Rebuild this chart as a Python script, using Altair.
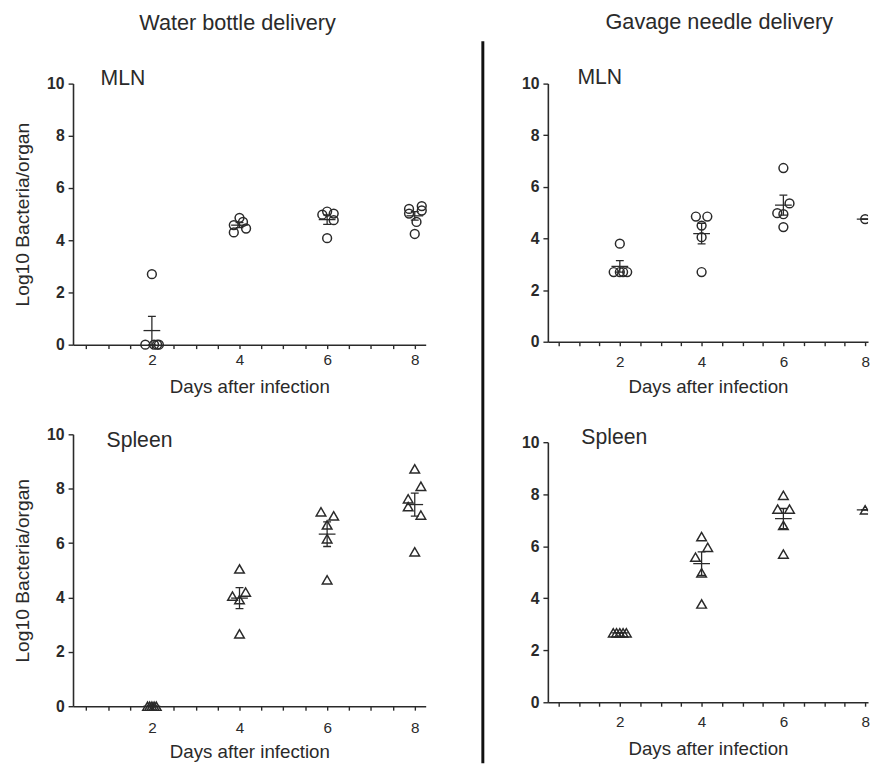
import altair as alt
import numpy as np
import pandas as pd

FONT = "Liberation Sans"
INK = "#2a2a2a"

# ---------------- data: log10 bacteria per organ ----------------
# Water bottle delivery, MLN
wb_mln_day = [2, 2, 2, 2, 2, 4, 4, 4, 4, 4, 6, 6, 6, 6, 6, 8, 8, 8, 8, 8, 8]
wb_mln_val = [0, 0, 0, 0, 2.7, 4.86, 4.58, 4.7, 4.3, 4.45, 4.98, 5.1, 5.02, 4.77, 4.08,
              5.2, 5.02, 5.31, 5.14, 4.7, 4.24]
wb_mln_spread = [-0.15, 0.05, 0.12, 0.16, 0, 0, -0.13, 0.08, -0.13, 0.15, -0.11, 0, 0.15, 0.15, 0,
                 -0.13, -0.13, 0.16, 0.16, 0.04, 0]

# Gavage needle delivery, MLN
gn_mln_day = [2, 2, 2, 2, 2, 4, 4, 4, 4, 4, 6, 6, 6, 6, 6, 8]
gn_mln_val = [3.8, 2.7, 2.7, 2.7, 2.7, 4.85, 4.85, 4.5, 4.05, 2.7, 6.73, 5.36, 4.98, 4.94, 4.44, 4.75]
gn_mln_spread = [0, -0.15, 0, 0.08, 0.18, -0.14, 0.14, 0, 0, 0, 0, 0.15, -0.15, 0, 0, 0]

# Water bottle delivery, Spleen
wb_spl_day = [2, 2, 2, 2, 2, 4, 4, 4, 4, 4, 6, 6, 6, 6, 6, 8, 8, 8, 8, 8, 8]
wb_spl_val = [0, 0, 0, 0, 0, 5.05, 4.05, 4.2, 3.92, 2.66, 7.15, 7.0, 6.67, 6.16, 4.65,
              8.73, 8.09, 7.63, 7.34, 7.03, 5.68]
wb_spl_spread = [-0.1, -0.05, 0, 0.05, 0.1, 0, -0.16, 0.14, 0, 0, -0.14, 0.15, 0, 0, 0,
                 0, 0.14, -0.15, -0.15, 0.14, 0]

# Gavage needle delivery, Spleen
gn_spl_day = [2, 2, 2, 2, 2, 4, 4, 4, 4, 4, 6, 6, 6, 6, 6, 8]
gn_spl_val = [2.67, 2.67, 2.67, 2.67, 2.67, 6.37, 5.96, 5.58, 4.98, 3.78, 7.96, 7.43, 7.43, 6.8, 5.7, 7.4]
gn_spl_spread = [-0.16, -0.08, 0, 0.08, 0.16, 0, 0.15, -0.15, 0, 0, 0, -0.14, 0.15, 0, 0, 0]

x_ticks = [i / 2 for i in range(1, 17)]
y_ticks = [0, 2, 4, 6, 8, 10]
X_TITLE = "Days after infection"
Y_TITLE = "Log10 Bacteria/organ"


def panel(days, vals, spread, shape, size, organ, organ_xy, xdom, w, h, ytitle,
          head, head_xy, lab_pad, title_pad, clip):
    df = pd.DataFrame({"day": days, "val": vals})
    df["xpos"] = df["day"] + np.array(spread)
    g = df.groupby("day")["val"]
    st = pd.DataFrame({"mean": g.mean(),
                       "sem": (g.std(ddof=1) / np.sqrt(g.count())).fillna(0)}).reset_index()
    st["lo"] = st["mean"] - st["sem"]
    st["hi"] = st["mean"] + st["sem"]

    xs = alt.Scale(domain=xdom, nice=False, zero=False)
    ys = alt.Scale(domain=[0, 10], nice=False, zero=False)
    xax = alt.Axis(values=x_ticks,
                   labelExpr="datum.value % 2 == 0 ? format(datum.value, 'd') : ''",
                   labelOverlap=False, labelFlush=False, tickSize=4, labelPadding=lab_pad,
                   titlePadding=title_pad, labelFontSize=15.5, titleFontSize=19)
    yax = alt.Axis(values=y_ticks, tickSize=5, labelPadding=4, labelFontWeight="bold",
                   labelFontSize=16, titleFontSize=19.5, titlePadding=14)

    def X(field):
        return alt.X(field, scale=xs, axis=xax, title=X_TITLE)

    def Y(field):
        if ytitle:
            return alt.Y(field, scale=ys, axis=yax, title=ytitle)
        return alt.Y(field, scale=ys, axis=yax, title=None)

    pts = alt.Chart(df).mark_point(shape=shape, size=size, filled=False, strokeWidth=1.5,
                                   color=INK, opacity=1, clip=clip).encode(
        x=X("xpos:Q"), y=Y("val:Q"))
    bar = alt.Chart(st).mark_rule(color=INK, strokeWidth=1.3, clip=True).encode(
        x=X("day:Q"), y=Y("lo:Q"), y2="hi:Q")
    cap_lo = alt.Chart(st).mark_tick(orient="horizontal", size=8, thickness=1.3,
                                     color=INK, opacity=1, clip=True).encode(
        x=X("day:Q"), y=Y("lo:Q"))
    cap_hi = alt.Chart(st).mark_tick(orient="horizontal", size=8, thickness=1.3,
                                     color=INK, opacity=1, clip=True).encode(
        x=X("day:Q"), y=Y("hi:Q"))
    mean = alt.Chart(st).mark_tick(orient="horizontal", size=17, thickness=1.3,
                                   color=INK, opacity=1, clip=clip).encode(
        x=X("day:Q"), y=Y("mean:Q"))
    org = alt.Chart(pd.DataFrame({"t": [organ]})).mark_text(
        align="left", baseline="middle", font=FONT, fontSize=21.5, color=INK).encode(
        x=alt.value(organ_xy[0]), y=alt.value(organ_xy[1]), text="t:N")
    layers = [pts, bar, cap_lo, cap_hi, mean, org]
    if head:
        hd = alt.Chart(pd.DataFrame({"t": [head]})).mark_text(
            align="center", baseline="middle", font=FONT, fontSize=22, color=INK).encode(
            x=alt.value(head_xy[0]), y=alt.value(head_xy[1]), text="t:N")
        layers.append(hd)
    return alt.layer(*layers).properties(width=w, height=h)


L_DOM = [0.2, 8.25]
R_DOM = [0.24, 8.07]

tl = panel(wb_mln_day, wb_mln_val, wb_mln_spread, "circle", 80, "MLN", (28, -5), L_DOM,
           358, 265, Y_TITLE, "Water bottle delivery", (167, -61), 4, 10, False)
bl = panel(wb_spl_day, wb_spl_val, wb_spl_spread, "triangle-up", 95, "Spleen", (34, 7), L_DOM,
           358, 276, Y_TITLE, None, None, 11, 7, False)
tr = panel(gn_mln_day, gn_mln_val, gn_mln_spread, "circle", 80, "MLN", (30, -6), R_DOM,
           325, 262, None, "Gavage needle delivery", (174, -62), 9, 8, True)
br = panel(gn_spl_day, gn_spl_val, gn_spl_spread, "triangle-up", 95, "Spleen", (34, -4), R_DOM,
           325, 264, None, None, None, 9, 10, True)

divider = alt.Chart(pd.DataFrame({"a": [0]})).mark_rule(color="#111", strokeWidth=3).encode(
    x=alt.value(54), y=alt.value(-43), y2=alt.value(690)).properties(width=93, height=265)

left = alt.vconcat(tl, bl, spacing=30)
right = alt.vconcat(tr, br, spacing=31)

chart = alt.hconcat(left, divider, right, spacing=0).properties(
    padding={"left": 5, "top": -2, "right": 0, "bottom": 0},
    background="white",
).configure_view(stroke=None).configure_axis(
    grid=False, domainColor=INK, tickColor=INK, labelColor=INK, titleColor=INK,
    labelFont=FONT, titleFont=FONT, titleFontWeight="normal",
    domainWidth=1.6, tickWidth=1.4,
)

chart.save("out.html", embed_options={"renderer": "svg", "actions": False})
